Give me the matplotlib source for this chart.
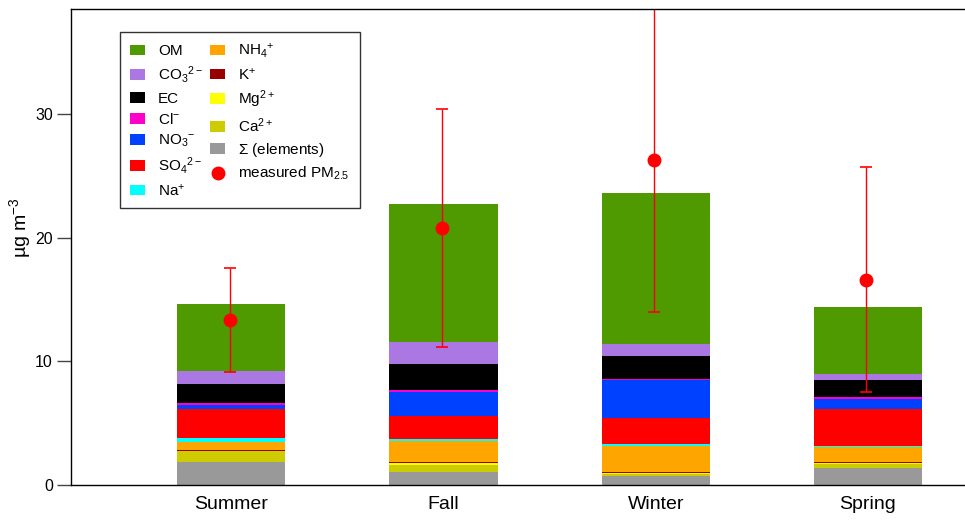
import numpy as np
import matplotlib
matplotlib.use("Agg")
import matplotlib.pyplot as plt
from matplotlib.lines import Line2D

plt.rcParams['font.family'] = ['Liberation Sans', 'DejaVu Sans']
plt.rcParams['mathtext.fontset'] = 'custom'
plt.rcParams['mathtext.rm'] = 'Liberation Sans'
plt.rcParams['mathtext.it'] = 'Liberation Sans'

seasons = ["Summer", "Fall", "Winter", "Spring"]

# stacked from bottom to top (ug m-3)
elements = [1.89, 1.08, 0.76, 1.35]
ca = [0.86, 0.56, 0.16, 0.37]
mg = [0.03, 0.16, 0.08, 0.03]
k = [0.08, 0.03, 0.02, 0.10]
nh4 = [0.65, 1.76, 2.16, 1.20]
na = [0.27, 0.11, 0.17, 0.13]
so4 = [2.35, 1.86, 2.05, 2.97]
no3 = [0.35, 1.99, 3.13, 0.84]
cl = [0.16, 0.17, 0.08, 0.13]
ec = [1.49, 2.10, 1.81, 1.38]
co3 = [1.10, 1.76, 1.00, 0.49]
om = [5.43, 11.17, 12.22, 5.42]

pm25 = [13.36, 20.8, 26.3, 16.6]
pm25_err = [4.2, 9.6, 12.3, 9.1]

layers = [
    (elements, "#999999", r"$\Sigma$ (elements)"),
    (ca, "#cccc00", r"Ca$^{2+}$"),
    (mg, "#ffff00", r"Mg$^{2+}$"),
    (k, "#990000", r"K$^{+}$"),
    (nh4, "#ffa500", r"NH$_4{}^{+}$"),
    (na, "#00ffff", r"Na$^{+}$"),
    (so4, "#ff0000", r"SO$_4{}^{2-}$"),
    (no3, "#0040ff", r"NO$_3{}^{-}$"),
    (cl, "#ff00cc", r"Cl$^{-}$"),
    (ec, "#000000", "EC"),
    (co3, "#ab77e3", r"CO$_3{}^{2-}$"),
    (om, "#4f9a00", "OM"),
]

fig = plt.figure(figsize=(9.65, 5.21), dpi=100)
ax = fig.add_axes([71/965, 36/521, 1 - 71/965, 476/521])

x = np.arange(len(seasons))
bottom = np.zeros(len(seasons))
handles = {}
for vals, color, label in layers:
    b = ax.bar(x, vals, width=0.51, bottom=bottom, color=color, edgecolor='none', label=label)
    handles[label] = b
    bottom += np.array(vals)

ax.errorbar(x - 0.007, pm25, yerr=pm25_err, fmt='o', color='#ff0000', ms=9,
            elinewidth=1.0, capsize=4, capthick=1.2)

ax.set_xlim(-0.754, 3.457)
ax.set_ylim(0, 38.5)
ax.set_yticks([0, 10, 20, 30])
ax.set_xticks(x)
ax.set_xticklabels(seasons, fontsize=14)
ax.tick_params(axis='x', length=0, pad=8)
ax.tick_params(axis='y', length=10, width=1, labelsize=11.5, color='#444444', pad=3)
ax.spines['right'].set_visible(False)
for s in ['left', 'top', 'bottom']:
    ax.spines[s].set_linewidth(1.0)
ax.set_ylabel(r"µg m$^{-3}$", fontsize=14)
ax.yaxis.set_label_coords(-0.042, 0.54)

order = ["OM", r"CO$_3{}^{2-}$", "EC", r"Cl$^{-}$", r"NO$_3{}^{-}$", r"SO$_4{}^{2-}$", r"Na$^{+}$",
         r"NH$_4{}^{+}$", r"K$^{+}$", r"Mg$^{2+}$", r"Ca$^{2+}$", r"$\Sigma$ (elements)"]
pm_handle = Line2D([], [], ls='none', marker='o', color='#ff0000', ms=9)
h = [handles[o] for o in order] + [pm_handle]
lab = order + ["measured PM$_{2.5}$"]
leg = ax.legend(h, lab, ncol=2, loc='upper left', bbox_to_anchor=(0.0548, 0.952),
                borderaxespad=0, fontsize=11, frameon=True, fancybox=False, edgecolor='black',
                handlelength=1.0, handleheight=0.7, handletextpad=0.85, labelspacing=0.4,
                columnspacing=0.45, borderpad=0.65)
leg.get_frame().set_linewidth(1.0)

fig.savefig("out.png", dpi=100)
